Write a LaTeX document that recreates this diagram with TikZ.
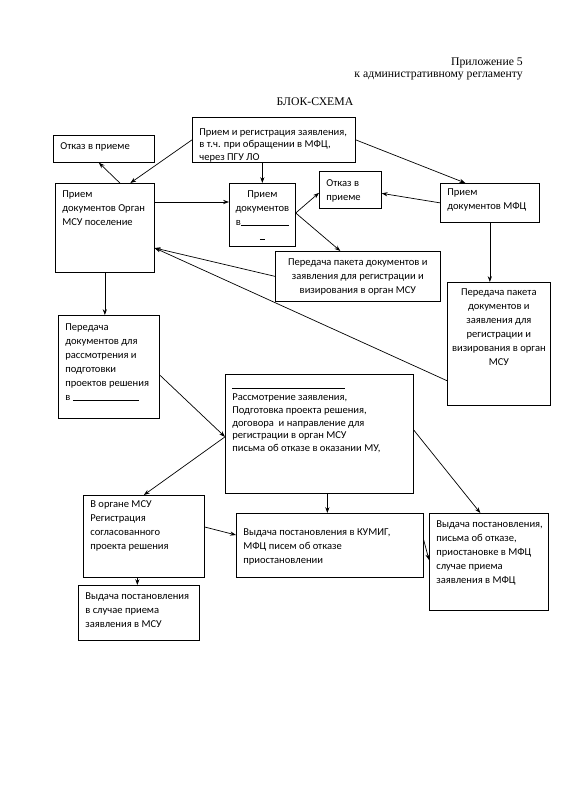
\documentclass[tikz,border=0pt]{standalone}
\usepackage{fontspec}
\setmainfont{Carlito}
\newfontfamily\hdrfont{Liberation Serif}
\usetikzlibrary{calc,arrows.meta}

\newdimen\pxu \pxu=0.03cm
\newcommand{\bfnt}{\fontsize{9}{12}\selectfont}
% box text: [top pad]{width}{height}{text}
\newcommand{\bl}[4][7]{\parbox[c][#3\pxu][t]{#2\pxu}{\vspace*{#1\pxu}\raggedright\leftskip=7\pxu\parindent=0pt\relax #4}}
\newcommand{\blc}[4][7]{\parbox[c][#3\pxu][t]{#2\pxu}{\vspace*{#1\pxu}\centering\parindent=0pt\relax #4}}

\begin{document}
\begin{tikzpicture}[x=0.03cm, y=-0.03cm,
    box/.style={draw, line width=0.6pt, inner sep=0pt, anchor=north west, font=\bfnt},
    arr/.style={-{Stealth[length=5pt,width=3.6pt]}, line width=0.6pt},
    hdr/.style={inner sep=0pt, font=\hdrfont\fontsize{10}{10}\selectfont}]
\useasboundingbox (0,0) rectangle (564,800);

% header
\node[hdr, anchor=north east, align=right] (pril) at (523,58) {Приложение 5\\к административному регламенту};
\node[hdr] (title) at (315,102) {БЛОК-СХЕМА};

% boxes
\node[box] (priem) at (192,117) {\bl[11]{163}{45}{\fontsize{9}{10.8}\selectfont Прием и регистрация заявления,\\в т.ч. при обращении в МФЦ,\\через ПГУ ЛО}};
\node[box] (otkaz1) at (53,135) {\bl[7.5]{101}{27}{Отказ в приеме}};
\node[box] (organ) at (55,183) {\bl[7.5]{99}{89}{Прием\\документов Орган\\МСУ поселение}};
\node[box] (priemv) at (229,183) {\blc[7.5]{66}{63}{Прием\\документов\\в\rule{48\pxu}{0.4pt}\\\rule{5\pxu}{0.4pt}}};
\node[box] (otkaz2) at (319,171) {\bl[8.5]{62}{37}{Отказ в\\приеме}};
\node[box] (mfc) at (440,183) {\bl[5.5]{99}{39}{Прием\\документов МФЦ}};
\node[box] (pered1) at (275,251) {\blc[7.5]{165}{50}{Передача пакета документов и\\заявления для регистрации и\\визирования в орган МСУ}};
\node[box] (pered2) at (447,282) {\blc[6.5]{103}{123}{Передача пакета\\документов и\\заявления для\\регистрации и\\визирования в орган\\МСУ}};
\node[box] (pered3) at (58,315) {\bl[8.5]{101}{103}{Передача\\документов для\\рассмотрения и\\подготовки\\проектов решения\\в \rule{66\pxu}{0.4pt}}};
\node[box] (rassm) at (225,374) {\bl[13]{188}{119}{\fontsize{9}{11}\selectfont\rule[-1.5\pxu]{113\pxu}{0.4pt}\\Рассмотрение заявления,\\Подготовка проекта решения,\\договора\ \ и направление для\\регистрации в орган МСУ\\письма об отказе в оказании МУ,}};
\node[box] (vorgane) at (83,495) {\bl[5.5]{121}{82}{В органе МСУ\\Регистрация\\согласованного\\проекта решения}};
\node[box] (kumig) at (236,513) {\bl[15.5]{187}{64}{Выдача постановления в КУМИГ,\\МФЦ писем об отказе\\приостановлении}};
\node[box] (vydmfc) at (429,513) {\bl[7.5]{119}{97}{Выдача постановления,\\письма об отказе,\\приостановке в МФЦ\\случае приема\\заявления в МФЦ}};
\node[box] (vydmsu) at (78,585) {\bl[7.5]{121}{55}{Выдача постановления\\в случае приема\\заявления в МСУ}};

% connectors
\coordinate (o1) at ($(organ.north east)+(0,19)$);
\coordinate (o2) at ($(organ.north east)+(0,65)$);
\coordinate (v1) at ($(priemv.north east)+(0,30)$);
\coordinate (r0) at ($(rassm.west)+(0,3)$);
\coordinate (r1) at ($(rassm.south)+(8,0)$);
\coordinate (g1) at ($(vorgane.south)+(-6.5,0)$);
\draw[arr] (priem.west) -- ($(organ.north)+(25.5,0)$);
\draw[arr] ($(organ.north)+(15,0)$) -- ($(otkaz1.south)+(-5,0)$);
\draw[arr] (priem.south -| priemv.north) -- (priemv.north);
\draw[arr] (priem.east) -- ($(mfc.north)+(-24.5,0)$);
\draw[arr] (mfc.west) -- ($(otkaz2.east)+(0,3.5)$);
\draw[arr] (o1) -- (o1 -| priemv.west);
\draw[arr] (v1) -- ($(otkaz2.west)+(0,3)$);
\draw[arr] (v1) -- ($(pered1.north)+(-17.5,0)$);
\draw[arr] (pered1.west) -- (o2);
\draw[arr] ($(pered2.south west)+(0,-25)$) -- (o2);
\draw[arr] (mfc.south) -- (mfc.south |- pered2.north);
\draw[arr] (organ.south) -- (organ.south |- pered3.north);
\draw[arr] ($(pered3.north east)+(0,60)$) -- (r0);
\draw[arr] (r0) -- (vorgane.north);
\draw[arr] ($(rassm.north east)+(0,56)$) -- ($(vydmfc.north)+(-8.5,0)$);
\draw[arr] (r1) -- (r1 |- kumig.north);
\draw[arr] ($(vorgane.north east)+(0,32)$) -- ($(kumig.north west)+(0,22)$);
\draw[arr] ($(kumig.north east)+(0,27)$) -- ($(vydmfc.north west)+(0,47)$);
\draw[arr] (g1) -- (g1 |- vydmsu.north);
\end{tikzpicture}
\end{document}
